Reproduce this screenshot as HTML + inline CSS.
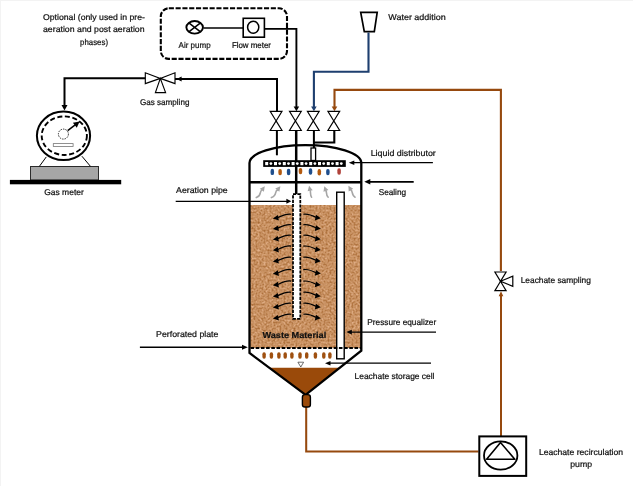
<!DOCTYPE html>
<html lang="en"><head><meta charset="utf-8"><title>Bioreactor landfill simulator schematic</title>
<style>html,body{margin:0;padding:0;background:#fff;overflow:hidden}svg{display:block}text{font-family:"Liberation Sans",sans-serif;fill:#111;stroke:#111;stroke-width:0.22px;text-rendering:geometricPrecision}</style>
</head><body>
<svg role="img" aria-label="Schematic of bioreactor landfill simulator" width="633" height="486" viewBox="0 0 633 486">
<defs>
<filter id="tex" x="0" y="0" width="100%" height="100%" color-interpolation-filters="sRGB">
<feTurbulence type="fractalNoise" baseFrequency="0.5" numOctaves="2" seed="7" result="n"/>
<feColorMatrix in="n" type="matrix" values="0 0 0 0 0  0 0 0 0 0  0 0 0 0 0  2.2 0 0 0 -0.9" result="a"/>
<feFlood flood-color="#e6b590" result="lt"/>
<feComposite in="lt" in2="a" operator="in" result="light"/>
<feColorMatrix in="n" type="matrix" values="0 0 0 0 0  0 0 0 0 0  0 0 0 0 0  0 2.2 0 0 -0.92" result="b"/>
<feFlood flood-color="#a3642e" result="dk"/>
<feComposite in="dk" in2="b" operator="in" result="dark"/>
<feMerge><feMergeNode in="SourceGraphic"/><feMergeNode in="light"/><feMergeNode in="dark"/></feMerge>
</filter>
<filter id="soft" x="0" y="0" width="100%" height="100%" filterUnits="userSpaceOnUse" color-interpolation-filters="sRGB"><feGaussianBlur stdDeviation="0.3"/></filter>
</defs>
<rect width="633" height="486" fill="#fff"/>
<rect x="0" y="0" width="633" height="1" fill="#f3f3f3"/><rect x="0" y="0" width="1" height="486" fill="#f3f3f3"/>
<g filter="url(#soft)">
<text x="43.00" y="19.90" font-size="8.4" textLength="102.00" lengthAdjust="spacingAndGlyphs">Optional (only used in pre-</text>
<text x="43.00" y="32.20" font-size="8.4" textLength="101.60" lengthAdjust="spacingAndGlyphs">aeration and post aeration</text>
<text x="80.10" y="44.50" font-size="8.4" textLength="27.90" lengthAdjust="spacingAndGlyphs">phases)</text>
<text x="178.60" y="48.40" font-size="8.4" textLength="32.00" lengthAdjust="spacingAndGlyphs">Air pump</text>
<text x="231.90" y="48.40" font-size="8.4" textLength="39.10" lengthAdjust="spacingAndGlyphs">Flow meter</text>
<text x="388.30" y="19.60" font-size="8.4" textLength="57.50" lengthAdjust="spacingAndGlyphs">Water addition</text>
<text x="140.00" y="105.30" font-size="8.4" textLength="49.40" lengthAdjust="spacingAndGlyphs">Gas sampling</text>
<text x="44.20" y="195.00" font-size="8.4" textLength="39.60" lengthAdjust="spacingAndGlyphs">Gas meter</text>
<text x="370.70" y="156.10" font-size="8.4" textLength="65.10" lengthAdjust="spacingAndGlyphs">Liquid distributor</text>
<text x="176.10" y="193.20" font-size="8.4" textLength="51.60" lengthAdjust="spacingAndGlyphs">Aeration pipe</text>
<text x="378.65" y="194.70" font-size="8.4" textLength="27.45" lengthAdjust="spacingAndGlyphs">Sealing</text>
<text x="156.10" y="336.90" font-size="8.4" textLength="62.30" lengthAdjust="spacingAndGlyphs">Perforated plate</text>
<text x="367.30" y="325.40" font-size="8.4" textLength="68.90" lengthAdjust="spacingAndGlyphs">Pressure equalizer</text>
<text x="354.60" y="378.60" font-size="8.4" textLength="79.90" lengthAdjust="spacingAndGlyphs">Leachate storage cell</text>
<text x="520.70" y="282.60" font-size="8.4" textLength="70.20" lengthAdjust="spacingAndGlyphs">Leachate sampling</text>
<text x="538.90" y="454.70" font-size="8.4" textLength="84.20" lengthAdjust="spacingAndGlyphs">Leachate recirculation</text>
<text x="570.20" y="466.60" font-size="8.4" textLength="21.80" lengthAdjust="spacingAndGlyphs">pump</text>
</g>
<rect x="160.8" y="8.3" width="126.2" height="50.6" rx="8" ry="8" fill="none" stroke="#000" stroke-width="2.1" stroke-dasharray="5.1 1.7"/>
<ellipse cx="194.65" cy="27.35" rx="8.3" ry="6.3" fill="#fff" stroke="#000" stroke-width="1.9"/>
<path d="M188.8,22.9 L200.5,31.8 M200.5,22.9 L188.8,31.8" stroke="#000" stroke-width="1.5" fill="none"/>
<polyline points="203.40,27.90 243.00,27.90" fill="none" stroke="#000" stroke-width="1.5" stroke-linejoin="miter"/>
<rect x="243.2" y="18.3" width="21.2" height="18.9" fill="#fff" stroke="#000" stroke-width="1.6"/>
<ellipse cx="253.2" cy="27.2" rx="5.6" ry="6" fill="#fff" stroke="#000" stroke-width="1.5"/>
<polyline points="264.50,28.90 296.40,28.90 296.40,108.00" fill="none" stroke="#000" stroke-width="1.9" stroke-linejoin="miter"/>
<polygon points="296.40,111.20 293.60,106.60 299.20,106.60" fill="#000"/>
<polyline points="172.00,79.00 277.00,79.00 277.00,111.30" fill="none" stroke="#000" stroke-width="2" stroke-linejoin="miter"/>
<polygon points="176.60,79.00 181.60,76.40 181.60,81.60" fill="#000"/>
<polyline points="146.00,78.30 64.50,78.30 64.50,106.00" fill="none" stroke="#000" stroke-width="2" stroke-linejoin="miter"/>
<polygon points="64.50,110.60 61.50,105.00 67.50,105.00" fill="#000"/>
<path d="M145.3,72.8 L145.3,83.6 L160.3,78.4 Z M175,72.8 L175,83.6 L160.3,78.4 Z M160.3,78.4 L155.4,92.6 L165.6,92.6 Z" fill="#fff" stroke="#000" stroke-width="1.15"/>
<path d="M46.3,156.9 L39.2,166.6 M81.9,156.2 L90.7,166.6" stroke="#000" stroke-width="1" fill="none"/>
<ellipse cx="63.5" cy="135.8" rx="26.6" ry="24.2" fill="#fff" stroke="#000" stroke-width="2"/>
<ellipse cx="64.3" cy="135.7" rx="22.6" ry="19.3" fill="none" stroke="#000" stroke-width="1.9" stroke-dasharray="5 2.6"/>
<circle cx="63.4" cy="134.1" r="5" fill="none" stroke="#000" stroke-width="0.8" stroke-dasharray="1.5 1"/>
<polyline points="67.70,130.60 76.50,123.90" fill="none" stroke="#000" stroke-width="1.5" stroke-linejoin="miter"/>
<polygon points="79.6,121.5 72.9,122.7 76.8,127.8" fill="#000"/>
<rect x="53.3" y="143.6" width="19.8" height="2.9" fill="#fff" stroke="#777" stroke-width="0.8"/>
<rect x="30.6" y="166.5" width="67.8" height="13.5" fill="#a6a6a6" stroke="#000" stroke-width="0.8"/>
<rect x="9.9" y="179.9" width="111.3" height="4.4" fill="#000"/>
<path d="M360.7,12.4 L377.2,12.4 L374.3,31.6 L364.3,31.6 Z" fill="#fff" stroke="#000" stroke-width="1.7"/>
<polyline points="368.50,32.50 368.50,71.80 313.90,71.80 313.90,108.00" fill="none" stroke="#1e3f6f" stroke-width="2.1" stroke-linejoin="miter"/>
<polygon points="313.90,111.20 311.10,106.60 316.70,106.60" fill="#1e3f6f"/>
<polyline points="334.50,108.00 334.50,89.90 500.90,89.90 500.90,271.00" fill="none" stroke="#96490e" stroke-width="2.1" stroke-linejoin="miter"/>
<polygon points="334.50,111.20 331.70,106.60 337.30,106.60" fill="#96490e"/>
<polyline points="501.00,295.00 501.00,436.00" fill="none" stroke="#96490e" stroke-width="2.05" stroke-linejoin="miter"/>
<polygon points="501.00,291.30 498.70,296.30 503.30,296.30" fill="#96490e"/>
<polyline points="306.20,406.00 306.20,451.50 478.50,451.50" fill="none" stroke="#96490e" stroke-width="2.05" stroke-linejoin="miter"/>
<rect x="250" y="205" width="111.5" height="143" fill="#cb9464" filter="url(#tex)"/>
<polygon points="269.2,367.7 339.6,367.7 305.8,394.8" fill="#9a4a0a"/>
<polyline points="276.90,131.00 276.90,155.30" fill="none" stroke="#000" stroke-width="2" stroke-linejoin="miter"/>
<polyline points="296.20,131.00 296.20,194.00" fill="none" stroke="#000" stroke-width="2.5" stroke-linejoin="miter"/>
<polyline points="313.90,131.00 313.90,148.00" fill="none" stroke="#000" stroke-width="2" stroke-linejoin="miter"/>
<polyline points="334.30,131.00 334.30,142.50 313.90,142.50" fill="none" stroke="#000" stroke-width="2.1" stroke-linejoin="miter"/>
<rect x="311" y="148" width="4.6" height="12.5" fill="#fff" stroke="#000" stroke-width="1.3"/>
<rect x="263.2" y="160.2" width="82.6" height="6.7" fill="#000"/>
<rect x="265.20" y="162" width="3" height="3.2" fill="#fff"/>
<circle cx="270.90" cy="163.6" r="1.4" fill="#fff"/>
<rect x="274.00" y="162" width="3" height="3.2" fill="#fff"/>
<circle cx="279.70" cy="163.6" r="1.4" fill="#fff"/>
<rect x="282.80" y="162" width="3" height="3.2" fill="#fff"/>
<circle cx="288.50" cy="163.6" r="1.4" fill="#fff"/>
<rect x="291.60" y="162" width="3" height="3.2" fill="#fff"/>
<circle cx="297.30" cy="163.6" r="1.4" fill="#fff"/>
<rect x="300.40" y="162" width="3" height="3.2" fill="#fff"/>
<circle cx="306.10" cy="163.6" r="1.4" fill="#fff"/>
<rect x="309.20" y="162" width="3" height="3.2" fill="#fff"/>
<circle cx="314.90" cy="163.6" r="1.4" fill="#fff"/>
<rect x="318.00" y="162" width="3" height="3.2" fill="#fff"/>
<circle cx="323.70" cy="163.6" r="1.4" fill="#fff"/>
<rect x="326.80" y="162" width="3" height="3.2" fill="#fff"/>
<circle cx="332.50" cy="163.6" r="1.4" fill="#fff"/>
<rect x="335.60" y="162" width="3" height="3.2" fill="#fff"/>
<circle cx="341.30" cy="163.6" r="1.4" fill="#fff"/>
<rect x="270.55" y="168.70" width="3.5" height="6.4" rx="1.7" ry="2.2" fill="#1f4e8c"/>
<rect x="278.35" y="168.90" width="3.5" height="6.4" rx="1.7" ry="2.2" fill="#b45a0f"/>
<rect x="286.85" y="168.80" width="3.5" height="6.4" rx="1.7" ry="2.2" fill="#1f4e8c"/>
<rect x="298.75" y="167.90" width="3.5" height="6.4" rx="1.7" ry="2.2" fill="#b45a0f"/>
<rect x="308.75" y="168.30" width="3.5" height="6.4" rx="1.7" ry="2.2" fill="#1f4e8c"/>
<rect x="317.55" y="169.00" width="3.5" height="6.4" rx="1.7" ry="2.2" fill="#b45a0f"/>
<rect x="326.15" y="168.90" width="3.5" height="6.4" rx="1.7" ry="2.2" fill="#1f4e8c"/>
<rect x="337.35" y="168.30" width="3.5" height="6.4" rx="1.7" ry="2.2" fill="#b0423a"/>
<polyline points="250.00,182.30 361.50,182.30" fill="none" stroke="#000" stroke-width="2.6" stroke-linejoin="miter"/>
<path d="M256.30,197.60 C261.93,195.89 259.28,190.76 261.81,190.21" fill="none" stroke="#a6a6a6" stroke-width="1.6" stroke-linecap="round"/>
<polygon points="264.80,186.20 263.90,191.76 259.73,188.65" fill="#a6a6a6"/>
<path d="M271.40,197.60 C277.25,195.89 274.55,190.76 277.30,190.12" fill="none" stroke="#a6a6a6" stroke-width="1.6" stroke-linecap="round"/>
<polygon points="280.40,186.20 279.34,191.74 275.26,188.51" fill="#a6a6a6"/>
<path d="M311.60,197.20 C309.88,195.49 310.73,190.36 310.17,190.68" fill="none" stroke="#a6a6a6" stroke-width="1.6" stroke-linecap="round"/>
<polygon points="309.10,185.80 312.71,190.13 307.63,191.24" fill="#a6a6a6"/>
<path d="M328.10,197.20 C325.79,195.55 326.77,190.60 325.93,190.93" fill="none" stroke="#a6a6a6" stroke-width="1.6" stroke-linecap="round"/>
<polygon points="324.30,186.20 328.39,190.08 323.48,191.77" fill="#a6a6a6"/>
<path d="M355.10,197.20 C351.48,195.49 352.75,190.36 350.93,190.11" fill="none" stroke="#a6a6a6" stroke-width="1.6" stroke-linecap="round"/>
<polygon points="348.40,185.80 353.17,188.79 348.69,191.43" fill="#a6a6a6"/>
<rect x="293" y="194.1" width="7.3" height="124.7" fill="#fff" stroke="#000" stroke-width="1.75" stroke-dasharray="3.2 1.2" stroke-dashoffset="-4.4"/>
<rect x="336.7" y="192.2" width="7.5" height="166.6" fill="#fff" stroke="#000" stroke-width="1.4"/>
<path d="M291.2,214.3 C286,213.3 282,215.7 277,218.0" fill="none" stroke="#000" stroke-width="1.15"/>
<polygon points="272.9,218.5 277.8,215.0 278.9,220.6" fill="#000"/>
<path d="M303.3,214.3 C308.5,213.5 312.5,215.5 316.5,217.6" fill="none" stroke="#000" stroke-width="1.15"/>
<polygon points="320.8,218.3 316,214.8 314.8,220.4" fill="#000"/>
<path d="M291.2,224.8 C286,223.8 282,226.2 277,228.5" fill="none" stroke="#000" stroke-width="1.15"/>
<polygon points="272.9,229.0 277.8,225.5 278.9,231.1" fill="#000"/>
<path d="M303.3,224.8 C308.5,224.0 312.5,226.0 316.5,228.1" fill="none" stroke="#000" stroke-width="1.15"/>
<polygon points="320.8,228.8 316,225.3 314.8,230.9" fill="#000"/>
<path d="M291.2,235.3 C286,234.3 282,236.7 277,239.0" fill="none" stroke="#000" stroke-width="1.15"/>
<polygon points="272.9,239.5 277.8,236.0 278.9,241.6" fill="#000"/>
<path d="M303.3,235.3 C308.5,234.5 312.5,236.5 316.5,238.6" fill="none" stroke="#000" stroke-width="1.15"/>
<polygon points="320.8,239.3 316,235.8 314.8,241.4" fill="#000"/>
<path d="M291.2,246.1 C286,245.1 282,247.5 277,249.8" fill="none" stroke="#000" stroke-width="1.15"/>
<polygon points="272.9,250.3 277.8,246.8 278.9,252.4" fill="#000"/>
<path d="M303.3,246.1 C308.5,245.3 312.5,247.3 316.5,249.4" fill="none" stroke="#000" stroke-width="1.15"/>
<polygon points="320.8,250.1 316,246.6 314.8,252.2" fill="#000"/>
<path d="M291.2,257.3 C286,256.3 282,258.7 277,261.0" fill="none" stroke="#000" stroke-width="1.15"/>
<polygon points="272.9,261.5 277.8,258.0 278.9,263.6" fill="#000"/>
<path d="M303.3,257.3 C308.5,256.5 312.5,258.5 316.5,260.6" fill="none" stroke="#000" stroke-width="1.15"/>
<polygon points="320.8,261.3 316,257.8 314.8,263.4" fill="#000"/>
<path d="M291.2,269.6 C286,268.6 282,271.0 277,273.3" fill="none" stroke="#000" stroke-width="1.15"/>
<polygon points="272.9,273.8 277.8,270.3 278.9,275.9" fill="#000"/>
<path d="M303.3,269.6 C308.5,268.8 312.5,270.8 316.5,272.9" fill="none" stroke="#000" stroke-width="1.15"/>
<polygon points="320.8,273.6 316,270.1 314.8,275.7" fill="#000"/>
<path d="M291.2,281.1 C286,280.1 282,282.5 277,284.8" fill="none" stroke="#000" stroke-width="1.15"/>
<polygon points="272.9,285.3 277.8,281.8 278.9,287.4" fill="#000"/>
<path d="M303.3,281.1 C308.5,280.3 312.5,282.3 316.5,284.4" fill="none" stroke="#000" stroke-width="1.15"/>
<polygon points="320.8,285.1 316,281.6 314.8,287.2" fill="#000"/>
<path d="M291.2,292.3 C286,291.3 282,293.7 277,296.0" fill="none" stroke="#000" stroke-width="1.15"/>
<polygon points="272.9,296.5 277.8,293.0 278.9,298.6" fill="#000"/>
<path d="M303.3,292.3 C308.5,291.5 312.5,293.5 316.5,295.6" fill="none" stroke="#000" stroke-width="1.15"/>
<polygon points="320.8,296.3 316,292.8 314.8,298.4" fill="#000"/>
<path d="M291.2,303.3 C286,302.3 282,304.7 277,307.0" fill="none" stroke="#000" stroke-width="1.15"/>
<polygon points="272.9,307.5 277.8,304.0 278.9,309.6" fill="#000"/>
<path d="M303.3,303.3 C308.5,302.5 312.5,304.5 316.5,306.6" fill="none" stroke="#000" stroke-width="1.15"/>
<polygon points="320.8,307.3 316,303.8 314.8,309.4" fill="#000"/>
<path d="M291.2,314.3 C286,313.3 282,315.7 277,318.0" fill="none" stroke="#000" stroke-width="1.15"/>
<polygon points="272.9,318.5 277.8,315.0 278.9,320.6" fill="#000"/>
<path d="M303.3,314.3 C308.5,313.5 312.5,315.5 316.5,317.6" fill="none" stroke="#000" stroke-width="1.15"/>
<polygon points="320.8,318.3 316,314.8 314.8,320.4" fill="#000"/>
<g filter="url(#soft)">
<text x="262.40" y="338.00" font-size="8.6" font-weight="bold" fill="#000" textLength="63.80" lengthAdjust="spacingAndGlyphs">Waste Material</text>
</g>
<polyline points="250.50,347.90 361.00,347.90" fill="none" stroke="#000" stroke-width="2" stroke-linejoin="miter" stroke-dasharray="3.6 1.6"/>
<rect x="262.40" y="352.3" width="3.4" height="6.4" rx="1.6" ry="2" fill="#9f5010"/>
<rect x="269.70" y="352.3" width="3.4" height="6.4" rx="1.6" ry="2" fill="#9f5010"/>
<rect x="277.20" y="352.3" width="3.4" height="6.4" rx="1.6" ry="2" fill="#9f5010"/>
<rect x="283.50" y="352.3" width="3.4" height="6.4" rx="1.6" ry="2" fill="#9f5010"/>
<rect x="290.20" y="352.3" width="3.4" height="6.4" rx="1.6" ry="2" fill="#9f5010"/>
<rect x="298.30" y="352.3" width="3.4" height="6.4" rx="1.6" ry="2" fill="#9f5010"/>
<rect x="305.00" y="352.3" width="3.4" height="6.4" rx="1.6" ry="2" fill="#9f5010"/>
<rect x="313.70" y="352.3" width="3.4" height="6.4" rx="1.6" ry="2" fill="#9f5010"/>
<rect x="322.10" y="352.3" width="3.4" height="6.4" rx="1.6" ry="2" fill="#9f5010"/>
<rect x="328.20" y="352.3" width="3.4" height="6.4" rx="1.6" ry="2" fill="#9f5010"/>
<polygon points="297.9,362.2 303.6,362.2 300.8,367" fill="#fff" stroke="#333" stroke-width="0.7"/>
<path d="M249.5,353 L249.5,163 A55.9,17.8 0 0 1 361.3,163 L361.3,350.6 L305.6,394.8 Z" fill="none" stroke="#000" stroke-width="2.3" stroke-linejoin="miter"/>
<rect x="302.4" y="394.6" width="8" height="12.4" rx="2.6" ry="2.6" fill="#9a4a0a" stroke="#000" stroke-width="1.4"/>
<path d="M270.20,111.40 L282.00,111.40 L276.10,120.95 Z M270.20,130.50 L282.00,130.50 L276.10,120.95 Z" fill="#fff" stroke="#000" stroke-width="1.15" stroke-linejoin="miter"/>
<path d="M289.50,111.40 L301.30,111.40 L295.40,120.95 Z M289.50,130.50 L301.30,130.50 L295.40,120.95 Z" fill="#fff" stroke="#000" stroke-width="1.15" stroke-linejoin="miter"/>
<path d="M307.40,111.40 L319.20,111.40 L313.30,120.95 Z M307.40,130.50 L319.20,130.50 L313.30,120.95 Z" fill="#fff" stroke="#000" stroke-width="1.15" stroke-linejoin="miter"/>
<path d="M327.90,111.40 L339.70,111.40 L333.80,120.95 Z M327.90,130.50 L339.70,130.50 L333.80,120.95 Z" fill="#fff" stroke="#000" stroke-width="1.15" stroke-linejoin="miter"/>
<path d="M494.9,272 L506.1,272 L500.5,281.3 Z M494.9,290.6 L506.1,290.6 L500.5,281.3 Z M500.5,281.3 L512.8,276.2 L512.8,286.3 Z" fill="#fff" stroke="#000" stroke-width="1.2"/>
<polyline points="175.70,201.30 287.40,201.30" fill="none" stroke="#000" stroke-width="1.3" stroke-linejoin="miter"/>
<polygon points="291.40,201.30 286.40,198.80 286.40,203.80" fill="#000"/>
<polyline points="139.90,347.30 243.00,347.30" fill="none" stroke="#000" stroke-width="1.6" stroke-linejoin="miter"/>
<polygon points="247.80,347.30 242.00,344.80 242.00,349.80" fill="#000"/>
<polyline points="432.90,162.70 353.30,162.70" fill="none" stroke="#000" stroke-width="1.2" stroke-linejoin="miter"/>
<polygon points="348.80,162.70 354.30,160.40 354.30,165.00" fill="#000"/>
<polyline points="413.70,181.80 369.30,181.80" fill="none" stroke="#000" stroke-width="1.8" stroke-linejoin="miter"/>
<polygon points="364.30,181.80 370.30,179.00 370.30,184.60" fill="#000"/>
<polyline points="436.00,332.10 350.80,332.10" fill="none" stroke="#000" stroke-width="1.2" stroke-linejoin="miter"/>
<polygon points="346.30,332.10 351.80,329.80 351.80,334.40" fill="#000"/>
<polyline points="431.00,363.20 329.50,363.20" fill="none" stroke="#000" stroke-width="1.2" stroke-linejoin="miter"/>
<polygon points="325.00,363.20 330.50,360.90 330.50,365.50" fill="#000"/>
<rect x="479.3" y="436.4" width="46.9" height="39.5" fill="#fff" stroke="#000" stroke-width="2"/>
<ellipse cx="500.7" cy="455.5" rx="16.7" ry="14.2" fill="#fff" stroke="#000" stroke-width="1.8"/>
<polygon points="500.5,442.4 514.8,459.3 486.6,459.3" fill="#fff" stroke="#000" stroke-width="1.6" stroke-linejoin="round"/>
</svg>
</body></html>
